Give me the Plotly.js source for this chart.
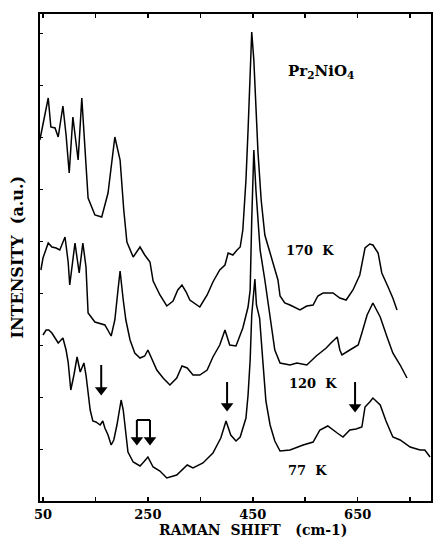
<!DOCTYPE html>
<html>
<head>
<meta charset="utf-8">
<script src="https://cdn.plot.ly/plotly-3.0.1.min.js"></script>
<style>html,body{margin:0;padding:0;background:#fff;}#chart{width:433px;height:538px;}</style>
</head>
<body>
<div id="chart"></div>
<script>
// Raman shift (cm-1) and intensity (arbitrary units, curves offset) for each temperature
var wn170 = [44,52,60,65,73,79,88,94,100,107,117,124,130,136,149,162,174,182,187,197,204,210,222,235,244,254,260,273,286,298,307,315,323,330,349,363,374,387,397,403,412,420,426,431,437,441,445,448,452,456,460,466,473,483,492,498,502,511,521,540,553,565,574,584,603,616,628,641,654,660,664,673,679,689,696,708,717,725];
var int170 = [361,381,403,374,373,364,395,366,328,384,341,403,351,303,286,284,308,341,364,341,291,259,244,254,246,239,220,206,195,200,211,216,209,201,194,206,219,231,236,248,246,251,254,271,321,371,431,469,441,391,348,301,266,248,233,221,205,198,196,191,195,196,205,208,208,203,201,211,226,241,253,257,256,248,228,214,203,191];

var wn120 = [46,50,60,67,75,82,92,98,101,111,119,126,132,136,149,168,180,187,193,197,203,208,216,225,235,244,250,258,267,279,292,305,315,325,336,349,363,374,387,397,406,418,431,441,445,448,452,456,460,464,473,483,492,502,521,534,553,571,590,599,611,616,620,635,651,658,668,679,693,706,717,731,744];
var int120 = [231,243,258,254,253,251,264,239,216,258,228,258,234,188,179,176,165,181,211,230,201,181,161,148,143,145,151,141,131,123,116,123,135,133,126,126,131,144,156,171,156,155,173,194,211,281,351,311,281,251,221,184,151,138,136,138,136,145,153,158,164,151,146,151,156,168,186,198,184,164,148,136,123];

var wn77 = [50,56,61,67,73,79,88,94,98,103,109,115,121,128,132,136,140,145,151,159,164,168,174,180,185,191,195,199,203,206,212,222,235,242,250,260,273,286,305,325,336,355,374,389,399,408,418,426,437,441,445,448,454,457,463,469,475,483,492,502,521,546,565,578,593,611,622,635,647,658,664,673,679,693,704,717,731,750,769,778,788];
var int77 = [166,171,171,168,163,158,163,151,139,111,126,144,129,138,126,106,91,80,79,76,80,73,66,56,61,76,91,101,91,76,49,39,35,39,44,34,30,23,26,36,33,38,48,63,80,66,60,64,83,106,141,186,222,196,183,141,100,76,60,50,51,56,59,71,75,68,64,71,72,74,94,99,103,96,80,64,61,54,51,51,44];

var tickVals = [50,250,450,650];
var tickText = ['50','250','450','650'];

// arrows: position (cm-1), tail intensity, tip intensity
var arrowWn   = [161, 401, 645, 229, 254];
var arrowTail = [136, 119, 119, 81, 81];
var arrowTip  = [105, 89, 88, 55, 55];
var bracketWn = [229, 254];
var bracketTop = 81;

var labels = [
  {t:'Pr<sub>2</sub>NiO<sub>4</sub>', x:580, y:430, s:15},
  {t:'170  K', x:559, y:251, s:13},
  {t:'120  K', x:565, y:118, s:13},
  {t:'77  K', x:555, y:31, s:13}
];

var F = 'DejaVu Serif, Liberation Serif, serif';
var lineStyle = {color:'#000', width:1.5};
var headLen = 6; // arrowhead offset, intensity units
var traces = [
  {x:wn170, y:int170, mode:'lines', line:lineStyle, name:'170 K'},
  {x:wn120, y:int120, mode:'lines', line:lineStyle, name:'120 K'},
  {x:wn77,  y:int77,  mode:'lines', line:lineStyle, name:'77 K'},
  {x:arrowWn, y:arrowTip.map(function(v){return v+headLen;}), mode:'markers',
   marker:{symbol:'triangle-down', size:11, color:'#000'}, name:'arrows'}
];

var shapes = [];
for (var i=0;i<arrowWn.length;i++){
  shapes.push({type:'line', xref:'x', yref:'y', x0:arrowWn[i], x1:arrowWn[i],
    y0:arrowTail[i], y1:arrowTip[i]+headLen, line:{color:'#000', width:2}});
}
shapes.push({type:'line', xref:'x', yref:'y', x0:bracketWn[0], x1:bracketWn[1], y0:bracketTop, y1:bracketTop,
  line:{color:'#000', width:2}});

var ann = [];
labels.forEach(function(l){
  ann.push({x:l.x, y:l.y, xref:'x', yref:'y', text:l.t, showarrow:false,
    font:{family:F, size:l.s, color:'#000', weight:'bold'}});
});
ann.push({xref:'paper', yref:'paper', x:0.545, y:0, xanchor:'center', yanchor:'middle', yshift:-29,
  text:'RAMAN  SHIFT   (cm-1)',
  showarrow:false, font:{family:F, size:14, color:'#000', weight:'bold'}});
ann.push({xref:'paper', yref:'paper', x:0, xanchor:'center', yanchor:'middle', xshift:-23, y:0.5,
  textangle:-90, text:'INTENSITY  (a.u.)',
  showarrow:false, font:{family:F, size:16, color:'#000', weight:'bold'}});

var layout = {
  width:433, height:538,
  margin:{l:40, r:2, t:14, b:37},
  paper_bgcolor:'#fff', plot_bgcolor:'#fff',
  showlegend:false,
  xaxis:{range:[44.3, 789.8], tickmode:'array', tickvals:tickVals, ticktext:tickText,
    ticks:'inside', ticklen:4, tickwidth:1.5, tickcolor:'#000', mirror:'ticks',
    minor:{tick0:50, dtick:100, ticks:'inside', ticklen:4, tickwidth:1.5, tickcolor:'#000', showgrid:false},
    showline:true, linecolor:'#000', linewidth:2, showgrid:false, zeroline:false,
    tickfont:{family:F, size:13, color:'#000', weight:'bold'}},
  yaxis:{range:[0,487], showticklabels:false, ticks:'inside', ticklen:3, dtick:52, tick0:0,
    tickcolor:'#000', mirror:true, showline:true, linecolor:'#000', linewidth:2,
    showgrid:false, zeroline:false},
  shapes:shapes,
  annotations:ann
};
Plotly.newPlot('chart', traces, layout, {displayModeBar:false, staticPlot:true});
</script>
</body>
</html>
